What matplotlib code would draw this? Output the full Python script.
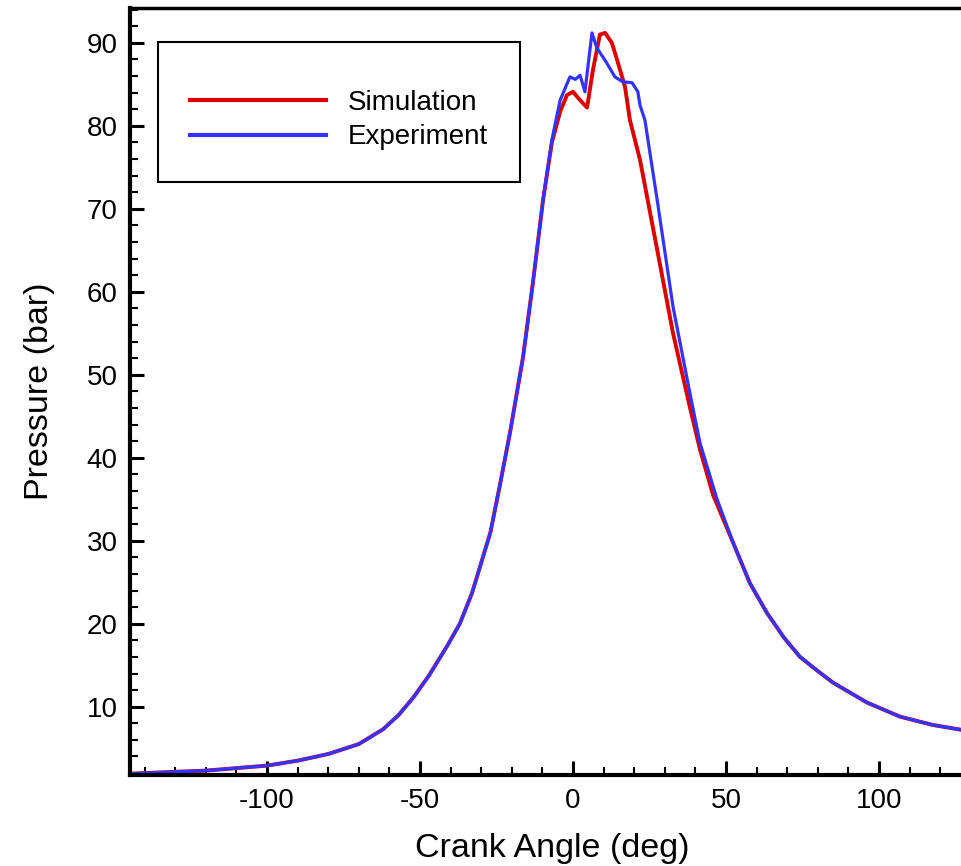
"""Cylinder pressure vs crank angle: simulation against experiment."""

import numpy as np
import matplotlib
matplotlib.use("Agg")
import matplotlib.pyplot as plt
from matplotlib.ticker import MultipleLocator

# values
sim_angle = [-146, -140, -130, -120, -110, -100, -90, -80, -70, -62, -57, -52,
             -47, -41, -37, -33, -27, -24, -20.6, -16.3, -13.1, -9.8, -6.9,
             -4.2, -2.0, 0.0, 2.3, 4.6, 6.5, 8.8, 10.5, 12.7, 14.7, 17.0, 18.6,
             21.9, 27.5, 32.7, 38.2, 41.5, 45.8, 52.3, 57.8, 63.4, 69.0, 74.2,
             80.0, 85.0, 96.1, 106.9, 117.6, 132]
sim_pressure = [1.9, 2.0, 2.15, 2.3, 2.6, 2.9, 3.5, 4.3, 5.5, 7.3, 9.0, 11.2,
                13.8, 17.4, 20.0, 23.7, 31.0, 36.5, 43.0, 52.2, 61.1, 71.0, 78.0,
                81.7, 83.7, 84.1, 83.1, 82.2, 86.7, 91.0, 91.2, 90.0, 87.6, 84.7,
                80.7, 75.9, 65.1, 55.0, 46.1, 41.0, 35.5, 29.8, 24.9, 21.3, 18.3,
                16.0, 14.3, 12.9, 10.5, 8.8, 7.8, 6.9]

exp_angle = [-146, -140, -130, -120, -110, -100, -90, -80, -70, -62, -57, -52,
             -47, -41, -37, -33, -27, -24, -20.6, -16.3, -13.1, -9.8, -6.9,
             -4.2, -1.0, 0.8, 2.3, 3.9, 6.2, 7.8, 11.0, 13.7, 16.3, 19.3, 21.2,
             21.9, 23.5, 27.5, 32.7, 38.2, 41.5, 47.0, 52.3, 57.8, 63.4, 69.0,
             74.2, 80.0, 85.0, 96.1, 106.9, 117.6, 132]
exp_pressure = [1.9, 2.0, 2.15, 2.3, 2.6, 2.9, 3.5, 4.3, 5.5, 7.3, 9.0, 11.2,
                13.8, 17.4, 20.0, 23.7, 31.0, 36.5, 43.0, 52.2, 61.1, 71.1, 78.3,
                83.1, 85.9, 85.6, 86.1, 84.1, 91.2, 89.4, 87.6, 85.9, 85.3, 85.2,
                84.1, 82.5, 80.7, 71.1, 58.2, 47.8, 41.8, 35.1, 29.8, 24.9, 21.3,
                18.3, 16.0, 14.3, 12.9, 10.5, 8.8, 7.8, 6.9]

plt.rcParams["font.family"] = ["Liberation Sans", "DejaVu Sans"]
plt.rcParams["axes.unicode_minus"] = False

W, H = 961, 866
fig = plt.figure(figsize=(W / 100, H / 100), dpi=100)
# right edge of the axes runs past the figure, as in the cropped original
left, right, top, bottom = 130, 975, 8, 775
ax = fig.add_axes([left / W, (H - bottom) / H, (right - left) / W, (bottom - top) / H])

ax.plot(sim_angle, sim_pressure, color="#dd0000", lw=2.8, label="Simulation",
        solid_joinstyle="round")
ax.plot(exp_angle, exp_pressure, color="#3333ff", lw=2.3, label="Experiment",
        solid_joinstyle="round")

ax.set_xlim(-144.8, 131.4)
ax.set_ylim(1.77, 94.2)
ax.xaxis.set_major_locator(MultipleLocator(50))
ax.xaxis.set_minor_locator(MultipleLocator(10))
ax.yaxis.set_minor_locator(MultipleLocator(2))
ax.set_yticks(np.arange(10, 91, 10))

ax.tick_params(which="both", direction="in", top=False, right=False)
ax.tick_params(which="major", length=10, width=2.2, labelsize=20, pad=9)
ax.tick_params(which="minor", length=6, width=1.5)

for side in ("left", "bottom"):
    ax.spines[side].set_linewidth(3)
ax.spines["top"].set_linewidth(2.5)
ax.spines["right"].set_visible(False)

ax.set_xlabel("Crank Angle (deg)", fontsize=24.5, labelpad=14)
ax.set_ylabel("Pressure (bar)", fontsize=24.5, labelpad=23)

# blank small title pushes the rows down, like the original's box
leg = ax.legend(loc="upper left", bbox_to_anchor=(0.033, 0.956),
                borderaxespad=0, fontsize=20, handlelength=4.9,
                handletextpad=0.8, borderpad=1.15, labelspacing=0.32,
                fancybox=False, framealpha=1, edgecolor="black",
                title=" ", title_fontsize=5)
leg.get_frame().set_linewidth(1.5)
for line in leg.get_lines():
    line.set_linewidth(3)

fig.savefig("out.png", dpi=100)
